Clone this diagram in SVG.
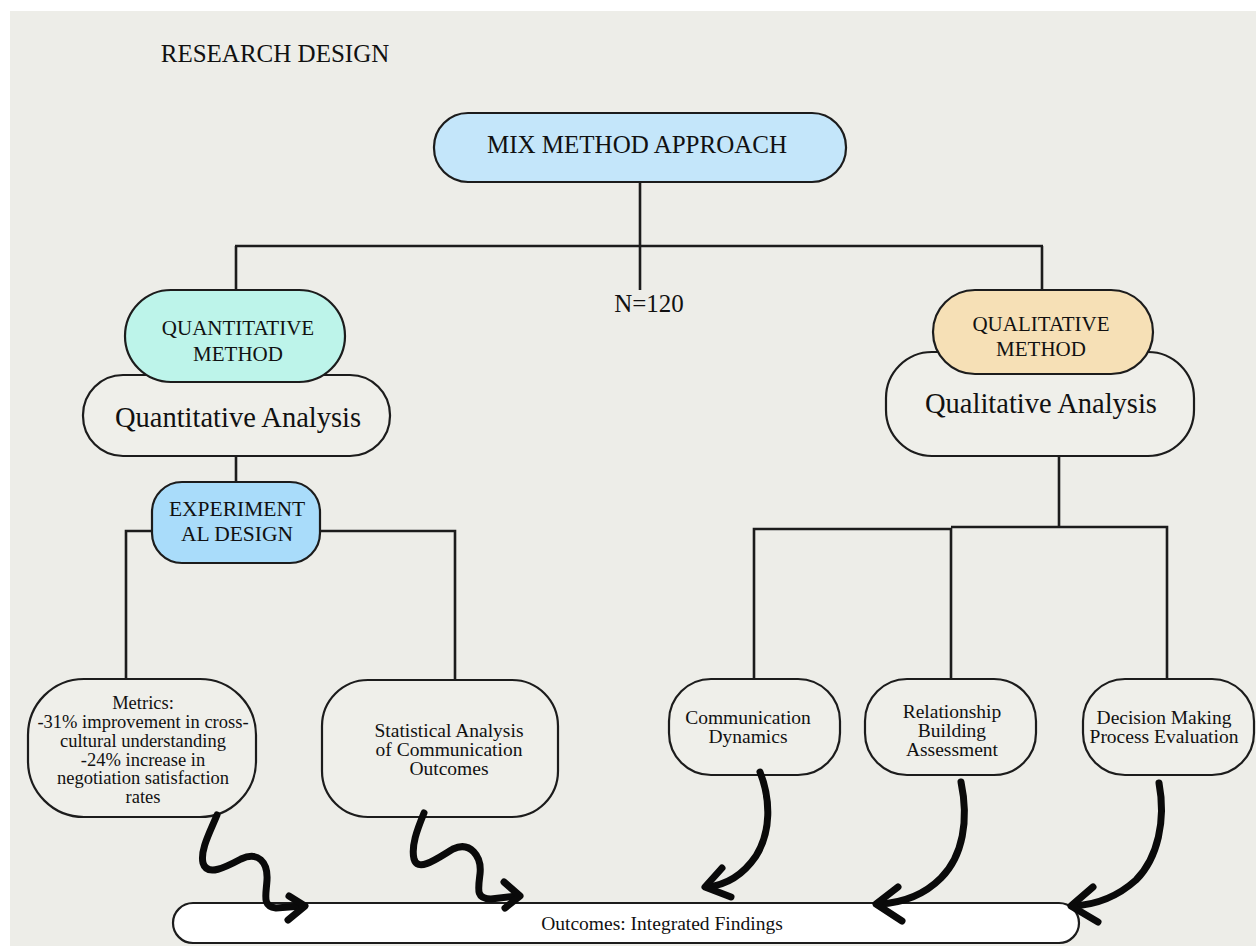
<svg xmlns="http://www.w3.org/2000/svg" width="1256" height="946" viewBox="0 0 1256 946">
<style>
.t{font-family:"Liberation Serif","Times New Roman",serif;fill:#111;text-anchor:middle}
.box{stroke:#1c1c1c;stroke-width:2.2}
.plain{fill:#efefea}
.ln{stroke:#1c1c1c;stroke-width:2.6;fill:none}
.arr{stroke:#0a0a0a;stroke-width:7;fill:none;stroke-linecap:round;stroke-linejoin:round}
</style>
<rect x="0" y="0" width="1256" height="946" fill="#ffffff"/>
<rect x="10" y="11" width="1246" height="935" fill="#ededE8"/>
<text class="t" x="275" y="62" font-size="25">RESEARCH DESIGN</text>

<g id="connectors">
<path class="ln" d="M640,182 V290"/>
<path class="ln" d="M235,246 H1043"/>
<path class="ln" d="M236,246 V292"/>
<path class="ln" d="M1042,246 V292"/>
<path class="ln" d="M236,456 V484"/>
<path class="ln" d="M153,531 H126 V680"/>
<path class="ln" d="M319,531 H455 V681"/>
<path class="ln" d="M1059,456 V528"/>
<path class="ln" d="M754,680 V529 H951 V680"/>
<path class="ln" d="M951,527 H1167 V680"/>
</g>

<g id="mix">
<rect class="box" x="434" y="113" width="412" height="69" rx="34" fill="#c4e6fa"/>
<text class="t" x="637" y="153" font-size="25">MIX METHOD APPROACH</text>
</g>
<text class="t" x="649" y="312" font-size="25">N=120</text>

<g id="quant-analysis">
<rect class="box plain" x="83" y="375" width="307" height="81" rx="40"/>
<text class="t" x="238" y="427" font-size="28.5">Quantitative Analysis</text>
</g>
<g id="quant-method">
<rect class="box" x="125" y="290" width="220" height="92" rx="46" fill="#bdf4ea"/>
<text class="t" x="238" y="335" font-size="21">QUANTITATIVE</text>
<text class="t" x="238" y="361" font-size="21">METHOD</text>
</g>

<g id="qual-analysis">
<rect class="box plain" x="886" y="352" width="308" height="104" rx="46"/>
<text class="t" x="1041" y="413" font-size="28.5">Qualitative Analysis</text>
</g>
<g id="qual-method">
<rect class="box" x="933" y="290" width="220" height="84" rx="42" fill="#f6e0b6"/>
<text class="t" x="1041" y="331" font-size="21">QUALITATIVE</text>
<text class="t" x="1041" y="356" font-size="21">METHOD</text>
</g>

<g id="experimental">
<rect class="box" x="152" y="482" width="168" height="81" rx="30" fill="#a9dcfa"/>
<text class="t" x="237" y="516" font-size="21.5">EXPERIMENT</text>
<text class="t" x="237" y="541" font-size="21.5">AL DESIGN</text>
</g>

<g id="metrics">
<rect class="box plain" x="28" y="679" width="228" height="138" rx="56"/>
<text class="t" font-size="18.5"><tspan x="143" y="709">Metrics:</tspan><tspan x="143" y="728">-31% improvement in cross-</tspan><tspan x="143" y="747">cultural understanding</tspan><tspan x="143" y="766">-24% increase in</tspan><tspan x="143" y="784">negotiation satisfaction</tspan><tspan x="143" y="803">rates</tspan></text>
</g>

<g id="statistical">
<rect class="box plain" x="322" y="680" width="236" height="137" rx="46"/>
<text class="t" font-size="19.5"><tspan x="449" y="737">Statistical Analysis</tspan><tspan x="449" y="756">of Communication</tspan><tspan x="449" y="775">Outcomes</tspan></text>
</g>

<g id="communication">
<rect class="box plain" x="669" y="679" width="171" height="96" rx="42"/>
<text class="t" font-size="19.5"><tspan x="748" y="724">Communication</tspan><tspan x="748" y="743">Dynamics</tspan></text>
</g>
<g id="relationship">
<rect class="box plain" x="865" y="679" width="171" height="96" rx="42"/>
<text class="t" font-size="19.5"><tspan x="952" y="718">Relationship</tspan><tspan x="952" y="737">Building</tspan><tspan x="952" y="756">Assessment</tspan></text>
</g>
<g id="decision">
<rect class="box plain" x="1083" y="679" width="171" height="96" rx="42"/>
<text class="t" font-size="19.5"><tspan x="1164" y="724">Decision Making</tspan><tspan x="1164" y="743">Process Evaluation</tspan></text>
</g>

<g id="outcomes">
<rect class="box" x="173" y="903" width="906" height="40" rx="20" fill="#ffffff"/>
<text class="t" x="662" y="930" font-size="19.5">Outcomes: Integrated Findings</text>
</g>

<g id="arrows">
<path class="arr" d="M217,815 C210,832 200,850 203,863 C207,877 226,867 241,859 C258,851 268,862 267,880 C266,896 262,906 276,908 L302,906"/>
<path class="arr" d="M289,896 L305,906 L288,920"/>
<path class="arr" d="M424,813 C417,830 411,846 414,859 C418,873 438,858 453,849 C470,841 482,856 480,874 C478,890 476,899 491,899 L517,896"/>
<path class="arr" d="M504,882 L520,896 L505,908"/>
<path class="arr" d="M760,772 C771,800 771,832 756,856 C743,875 726,885 707,887"/>
<path class="arr" d="M722,868 L705,887 L731,897"/>
<path class="arr" d="M961,782 C969,820 963,856 941,878 C923,896 900,903 879,904"/>
<path class="arr" d="M898,887 L876,904 L902,921"/>
<path class="arr" d="M1159,783 C1166,820 1158,858 1136,880 C1116,898 1093,905 1073,906"/>
<path class="arr" d="M1093,887 L1071,906 L1098,922"/>
</g>
</svg>
